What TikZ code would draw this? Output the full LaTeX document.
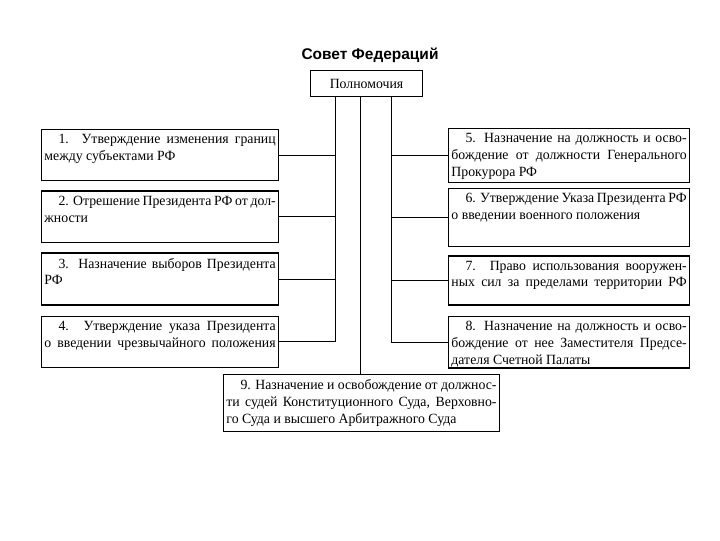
\documentclass[tikz,border=0pt]{standalone}
\usepackage{fontspec}
\setmainfont{Liberation Serif}
\newfontfamily\titlefont{Liberation Sans}
\newfontfamily\itemfont[FakeStretch=0.98]{Liberation Serif}
\usetikzlibrary{positioning,calc}

% one justified line, and the text of one item: width, height, lines
\newcommand{\jl}[1]{\hbox to\linewidth{#1}}
\newcommand{\punkt}[3]{\parbox[t][#2][t]{#1}{#3}}

\begin{document}
\begin{tikzpicture}[
  x=0.025cm, y=-0.025cm,
  item/.style={
    draw,
    line width=0.9pt,
    inner xsep=2pt,
    inner ysep=3.5pt,
    anchor=north west,
    font=\itemfont\fontsize{10}{12}\selectfont
  },
  head/.style={
    draw,
    line width=0.6pt,
    inner sep=0pt,
    minimum width=2.8cm,
    minimum height=0.67cm,
    font=\itemfont\fontsize{10}{12}\selectfont
  },
  link/.style={line width=0.6pt}
]
  \useasboundingbox (0,0) rectangle (720,540);

  % Title and top box
  \node[font=\titlefont\bfseries\fontsize{11}{13}\selectfont] (title) at (370,55) {Совет Федераций};
  \node[head] (pow) at (366.5,83.5) {Полномочия};

  % Left column
  \node[item] (l1) at (41,129) {\punkt{5.78cm}{1.03cm}{\jl{\hspace*{1em}1. Утверждение изменения границ}
    между субъектами РФ}};
  \node[item, below=0.225cm of l1] (l2) {\punkt{5.78cm}{1.05cm}{\jl{\hspace*{1em}2. Отрешение Президента РФ от дол-}
    жности}};
  \node[item, below=0.225cm of l2] (l3) {\punkt{5.78cm}{1.05cm}{\jl{\hspace*{1em}3. Назначение выборов Президента}
    РФ}};
  \node[item, below=0.25cm of l3] (l4) {\punkt{5.78cm}{1.03cm}{\jl{\hspace*{1em}4. Утверждение указа Президента}
    \jl{о введении чрезвычайного положения}}};

  % Right column
  \node[item] (r5) at (448,128) {\punkt{5.88cm}{1.1cm}{\jl{\hspace*{1em}5. Назначение на должность и осво-}
    \jl{бождение от должности Генерального}
    Прокурора РФ}};
  \node[item, below=0.125cm of r5] (r6) {\punkt{5.88cm}{1.2cm}{\jl{\hspace*{1em}6. Утверждение Указа Президента РФ}
    о введении военного положения}};
  \node[item, below=0.2cm of r6] (r7) {\punkt{5.88cm}{0.98cm}{\jl{\hspace*{1em}7. Право использования вооружен-}
    \jl{ных сил за пределами территории РФ}}};
  \node[item, below=0.25cm of r7] (r8) {\punkt{5.88cm}{1.05cm}{\jl{\hspace*{1em}8. Назначение на должность и осво-}
    \jl{бождение от нее Заместителя Предсе-}
    дателя Счетной Палаты}};

  % Bottom box
  \node[item] (b9) at (223,374) {\punkt{6.75cm}{1.18cm}{\jl{\hspace*{1em}9. Назначение и освобождение от должнос-}
    \jl{ти судей Конституционного Суда, Верховно-}
    го Суда и высшего Арбитражного Суда}};

  % Trunks
  \coordinate (lx) at (335,0);
  \coordinate (mx) at (360,0);
  \coordinate (rx) at (391,0);

  \draw[link] (pow.south -| lx) |- (l4.east);
  \draw[link] (pow.south -| rx) |- (r8.west);
  \draw[link] (pow.south -| mx) -- (b9.north -| mx);
  \foreach \n in {l1,l2,l3} {
    \draw[link] (\n.east) -- (\n.east -| lx);
  }
  \foreach \n in {r5,r6,r7} {
    \draw[link] (\n.west) -- (\n.west -| rx);
  }

\end{tikzpicture}
\end{document}
